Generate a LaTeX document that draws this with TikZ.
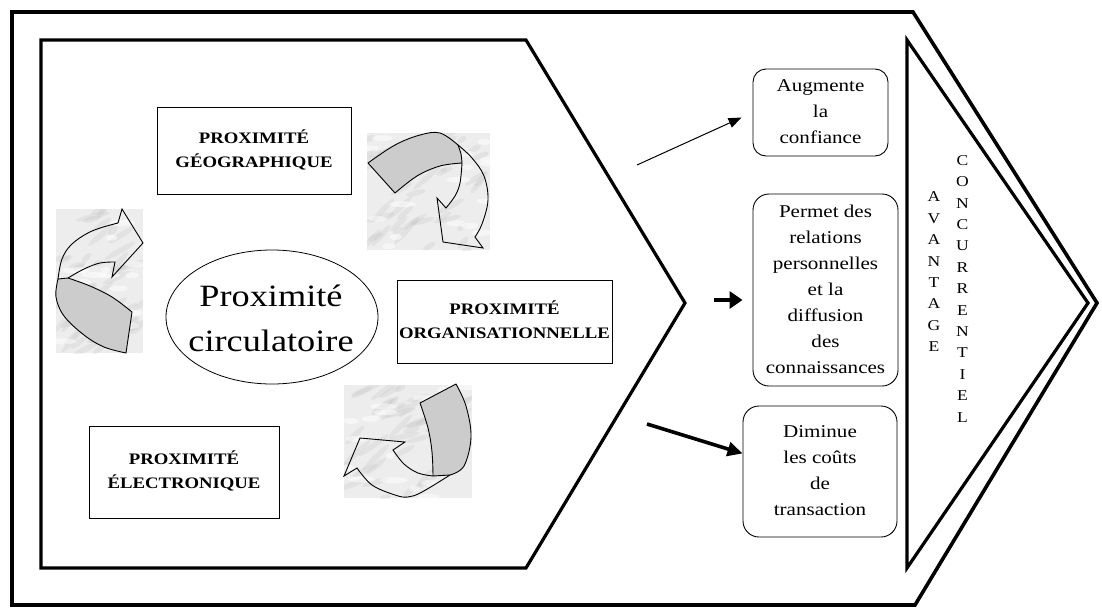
\documentclass[tikz,border=0pt]{standalone}
\usepackage{fontspec}
\usepackage{graphicx}
\setmainfont{Liberation Serif}
\usetikzlibrary{arrows.meta,shapes.geometric}
\definecolor{bandgray}{RGB}{204,204,204}
\newcommand\widetext[1]{\scalebox{1.17}[1]{\begin{tabular}{@{}c@{}}#1\end{tabular}}}
\newcommand\marblepatch[4]{%
  \begin{scope}
    \clip (#1,#2) rectangle (#3,#4);
    \fill[gray!14] (#1,#2) rectangle (#3,#4);
    \foreach \i in {1,...,45}{
      \pgfmathsetmacro\mx{#1+rnd*(#3-#1)}
      \pgfmathsetmacro\my{#2+rnd*(#4-#2)}
      \pgfmathsetmacro\mr{5+rnd*14}
      \pgfmathsetmacro\mrot{10+rnd*40}
      \fill[gray!60,opacity=0.18,rotate around={\mrot:(\mx,\my)}] (\mx,\my) ellipse [x radius=\mr, y radius=2.8];
    }
    \foreach \i in {1,...,20}{
      \pgfmathsetmacro\mx{#1+rnd*(#3-#1)}
      \pgfmathsetmacro\my{#2+rnd*(#4-#2)}
      \pgfmathsetmacro\mr{4+rnd*10}
      \fill[white,opacity=0.5] (\mx,\my) ellipse [x radius=\mr, y radius=3];
    }
  \end{scope}}
\begin{document}
\begin{tikzpicture}[x=1pt,y=-1pt,
  frame/.style={line width=3.6pt,line join=miter},
  labelbox/.style={draw,line width=0.8pt,font=\bfseries\fontsize{16}{24}\selectfont,inner sep=0pt},
  effect/.style={draw,rounded corners=13pt,line width=0.9pt,font=\fontsize{18}{26}\selectfont,inner sep=0pt},
  band/.style={draw,line width=0.9pt,fill=bandgray,line join=round},
  curl/.style={draw,line width=0.9pt,line join=miter},
  vert/.style={font=\fontsize{15}{21.4}\selectfont,inner sep=0pt}]
\pgfmathsetseed{7}
\useasboundingbox (0,0) rectangle (1102,608);
\fill[white] (0,0) rectangle (1102,608);

% frames
\draw[frame] (12,12) -- (913,12) -- (1097,303) -- (915,605) -- (12,605) -- cycle;
\draw[line width=3.2pt,line join=miter] (41,40) -- (526,40) -- (685,303) -- (526,568) -- (41,568) -- cycle;
\draw[line width=3.2pt,line join=miter] (907,40) -- (1088,303) -- (907,568) -- cycle;

% marble patches
\marblepatch{367}{133}{490}{250}
\marblepatch{56}{209}{143}{353}
\marblepatch{344}{385}{472}{498}

% curved arrow A (top)
\draw[band] plot[smooth,tension=0.6] coordinates {(368,163) (395,145) (420,135) (440,133) (458,145)}
  -- plot[smooth] coordinates {(458,145) (461,154) (462,163)}
  -- plot[smooth,tension=0.6] coordinates {(462,163) (440,166) (417,176) (395,193)} -- cycle;
\draw[curl] plot[smooth,tension=0.6] coordinates {(458,145) (472,158) (484,176) (488,200) (482,224) (475,237)}
  -- (483,248) -- (443,242) -- (437,198) -- (446,208)
  -- plot[smooth,tension=0.6] coordinates {(446,208) (455,196) (460,183) (462,163)};

% curved arrow B (left)
\draw[band] plot[smooth,tension=0.6] coordinates {(68,278) (90,286) (112,297) (132,312)}
  -- (126,353)
  -- plot[smooth,tension=0.6] coordinates {(126,353) (104,347) (84,335) (64,316) (56,297) (58,279)} -- cycle;
\draw[curl] plot[smooth,tension=0.6] coordinates {(58,279) (62,259) (72,244) (92,231) (118,223)}
  -- (122,209) -- (143,243) -- (112,277) -- (115,262)
  -- plot[smooth,tension=0.6] coordinates {(115,262) (100,263) (84,269) (68,278)};

% curved arrow C (bottom)
\draw[band] (420,403) -- (456,384)
  -- plot[smooth,tension=0.6] coordinates {(456,384) (466,406) (471,437) (464,466) (450,475)}
  -- (433,476)
  -- plot[smooth,tension=0.6] coordinates {(433,476) (432,452) (428,428) (420,403)} -- cycle;
\draw[curl] plot[smooth,tension=0.6] coordinates {(433,476) (418,473) (404,464) (393,450)}
  -- (405,442) -- (360,438) -- (344,476) -- (357,468)
  -- plot[smooth,tension=0.6] coordinates {(357,468) (372,485) (395,495) (408,497) (422,492) (450,475)};

% central ellipse
\node[draw,ellipse,line width=0.8pt,minimum width=212pt,minimum height=134pt,inner sep=0pt] (circ) at (272,317) {};
\node[font=\fontsize{31}{45}\selectfont,inner sep=0pt] (circt) at (271,320) {\widetext{Proximité\\circulatoire}};

% proximity boxes
\node[labelbox,minimum width=194pt,minimum height=87pt] (geo) at (254,150.5) {\widetext{PROXIMITÉ\\GÉOGRAPHIQUE}};
\node[labelbox,minimum width=215pt,minimum height=83pt] (org) at (504.5,321.5) {\widetext{PROXIMITÉ\\ORGANISATIONNELLE}};
\node[labelbox,minimum width=190pt,minimum height=92pt] (elec) at (184,472) {\widetext{PROXIMITÉ\\ÉLECTRONIQUE}};

% effect boxes
\node[effect,minimum width=135pt,minimum height=87pt] (aug) at (820.5,112.5) {\widetext{Augmente\\la\\confiance}};
\node[effect,rounded corners=16pt,minimum width=145pt,minimum height=192pt] (perm) at (825.5,290) {\widetext{Permet des\\relations\\personnelles\\et la\\diffusion\\des\\connaissances}};
\node[effect,rounded corners=16pt,minimum width=154pt,minimum height=131pt] (dim) at (820,471.5) {\widetext{Diminue\\les coûts\\de\\transaction}};

% connectors
\coordinate (s1) at (637,165);
\coordinate (t1) at ([xshift=-11pt,yshift=-5pt]aug.west);
\draw[line width=1pt,-{Triangle[length=13pt,width=10pt]}] (s1) -- (t1);
\coordinate (s2) at (714,300);
\coordinate (t2) at ([xshift=-10pt,yshift=-10pt]perm.west);
\draw[line width=4pt,-{Triangle[length=13pt,width=17pt]}] (s2) -- (t2);
\coordinate (s3) at (647,424);
\coordinate (t3) at ([yshift=18pt]dim.west);
\draw[line width=3.6pt,-{Triangle[length=15pt,width=14pt]}] (s3) -- (t3);

% vertical text
\node[vert] (av) at (934,272.5) {\widetext{A\\V\\A\\N\\T\\A\\G\\E}};
\node[vert] (co) at (962.5,289.5) {\widetext{C\\O\\N\\C\\U\\R\\R\\E\\N\\T\\I\\E\\L}};
\end{tikzpicture}
\end{document}
